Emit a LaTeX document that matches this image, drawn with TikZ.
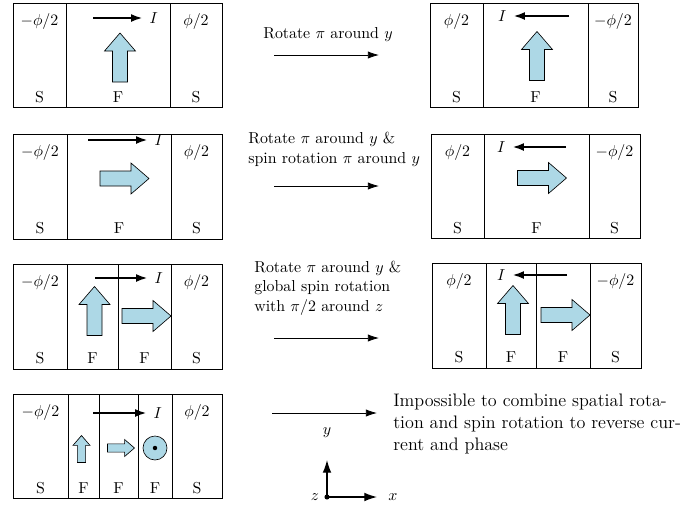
\documentclass[tikz,border=0pt]{standalone}
\usepackage{amsmath, amssymb}
\usepackage{tikz}
\usetikzlibrary{arrows.meta, positioning, calc}
\usepackage{xcolor}
\definecolor{spinblue}{RGB}{173,216,230}

\tikzset{
  spin/.pic={\draw[fill=spinblue, line width=0.4pt]
    (-7.5,24.5) -- (-7.5,-6.5) -- (-15.5,-6.5) -- (0,-24.5)
    -- (15.5,-6.5) -- (7.5,-6.5) -- (7.5,24.5) -- cycle;}
}

\begin{document}
\begin{tikzpicture}[x=0.63pt, y=-0.63pt,
  cellbox/.style={draw, line width=0.5pt},
  current/.style={-{Latex[length=7.5pt,width=5pt]}, line width=1.6pt},
  turn/.style={-{Latex[length=7pt,width=4.6pt]}, line width=0.5pt},
  axis/.style={-{Latex[length=8pt,width=5.5pt]}, line width=0.8pt},
  note/.style={align=left, inner sep=0pt, anchor=base west},
  lab/.style={anchor=base}]
  \useasboundingbox (0,0) rectangle (696,508);

  % row 1: rotate pi around y
  \draw[cellbox] (13,3) rectangle (222,107) (66,3) -- (66,107) (170,3) -- (170,107);
  \node[lab] (p1a) at (39.5,25) {$-\phi/2$};
  \node[lab] (p1b) at (196,25) {$\phi/2$};
  \foreach \x/\t [count=\i] in {39.5/S,118/F,196/S}
    \node[lab] (c1\i) at (\x,102) {\t};
  \coordinate (i1a) at (93,18);
  \draw[current] (i1a) -- (143,18) node[right] (I1) {$I$};
  \pic at (120,57.5) {spin};

  \node[note] (t1) at (263,38) {Rotate $\pi$ around $y$};
  \coordinate (a1) at (274,55);
  \coordinate (b1) at (379,55);
  \draw[turn] (a1) -- (b1);

  \draw[cellbox] (430,3) rectangle (638,107) (483,3) -- (483,107) (588,3) -- (588,107);
  \node[lab] (q1a) at (456.5,25) {$\phi/2$};
  \node[lab] (q1b) at (613,25) {$-\phi/2$};
  \foreach \x/\t [count=\i] in {456.5/S,535.5/F,613/S}
    \node[lab] (d1\i) at (\x,102) {\t};
  \coordinate (j1a) at (569,16);
  \draw[current] (j1a) -- (513,16) node[left] (J1) {$I$};
  \pic at (537,56) {spin};

  % row 2: rotate pi around y and spin rotation
  \draw[cellbox] (13,134) rectangle (222,239) (67,134) -- (67,239) (171,134) -- (171,239);
  \node[lab] (p2a) at (40,156) {$-\phi/2$};
  \node[lab] (p2b) at (196.5,156) {$\phi/2$};
  \foreach \x/\t [count=\i] in {40/S,119/F,196.5/S}
    \node[lab] (c2\i) at (\x,233) {\t};
  \coordinate (i2a) at (88,140);
  \draw[current] (i2a) -- (148,140) node[right] (I2) {$I$};
  \pic[rotate=-90] at (124.5,178.5) {spin};

  \node[note] (t2) at (248,163) {Rotate $\pi$ around $y$ \&\\spin rotation $\pi$ around $y$};
  \coordinate (a2) at (274,186);
  \coordinate (b2) at (379,186);
  \draw[turn] (a2) -- (b2);

  \draw[cellbox] (431,134) rectangle (640,238) (484,134) -- (484,238) (589,134) -- (589,238);
  \node[lab] (q2a) at (457.5,156) {$\phi/2$};
  \node[lab] (q2b) at (614.5,156) {$-\phi/2$};
  \foreach \x/\t [count=\i] in {457.5/S,536.5/F,614.5/S}
    \node[lab] (d2\i) at (\x,233) {\t};
  \coordinate (j2a) at (566,147);
  \draw[current] (j2a) -- (512,147) node[left] (J2) {$I$};
  \pic[rotate=-90] at (542,178) {spin};

  % row 3: two F layers, global spin rotation
  \draw[cellbox] (13,264) rectangle (222,369) (67,264) -- (67,369)
    (118,264) -- (118,369) (171,264) -- (171,369);
  \node[lab] (p3a) at (40,286) {$-\phi/2$};
  \node[lab] (p3b) at (196.5,286) {$\phi/2$};
  \foreach \x/\t [count=\i] in {40/S,92.5/F,144.5/F,196.5/S}
    \node[lab] (c3\i) at (\x,363) {\t};
  \coordinate (i3a) at (95,278);
  \draw[current] (i3a) -- (148,278) node[right] (I3) {$I$};
  \pic at (94.5,311) {spin};
  \pic[rotate=-90] at (146.5,316) {spin};

  \node[note] (t3) at (254,311) {Rotate $\pi$ around $y$ \&\\global spin rotation\\with $\pi/2$ around $z$};
  \coordinate (a3) at (274,338);
  \coordinate (b3) at (379,338);
  \draw[turn] (a3) -- (b3);

  \draw[cellbox] (432,263) rectangle (641,368) (486,263) -- (486,368)
    (536,263) -- (536,368) (590,263) -- (590,368);
  \node[lab] (q3a) at (459,285) {$\phi/2$};
  \node[lab] (q3b) at (615.5,285) {$-\phi/2$};
  \foreach \x/\t [count=\i] in {459/S,511/F,563/F,615.5/S}
    \node[lab] (d3\i) at (\x,362) {\t};
  \coordinate (j3a) at (567,275);
  \draw[current] (j3a) -- (512,275) node[left] (J3) {$I$};
  \pic at (513,310) {spin};
  \pic[rotate=-90] at (565.5,315) {spin};

  % row 4: three F layers
  \draw[cellbox] (13,394) rectangle (222,498) (68,394) -- (68,498)
    (99,394) -- (99,498) (138,394) -- (138,498) (172,394) -- (172,498);
  \node[lab] (p4a) at (40.5,416) {$-\phi/2$};
  \node[lab] (p4b) at (197,416) {$\phi/2$};
  \foreach \x/\t [count=\i] in {40.5/S,83.5/F,118.5/F,155/F,197/S}
    \node[lab] (c4\i) at (\x,493) {\t};
  \coordinate (i4a) at (93,413);
  \draw[current] (i4a) -- (147,413) node[right] (I4) {$I$};
  \pic[scale=0.55] at (81.5,449) {spin};
  \pic[scale=0.55, rotate=-90] at (121,448) {spin};
  \node[circle, draw, fill=spinblue, line width=0.4pt, minimum size=15.1pt, inner sep=0pt] (out) at (155,448) {};
  \fill (out.center) circle (1.4pt);

  \coordinate (a4) at (272,413);
  \coordinate (b4) at (377,413);
  \draw[turn] (a4) -- (b4);
  \node[note, font=\fontsize{11.4pt}{13.7pt}\selectfont] (t4) at (393,450)
    {Impossible to combine spatial rota-\\tion and spin rotation to reverse cur-\\rent and phase};

  % axes
  \coordinate (o) at (327,497);
  \coordinate (yend) at (327,460);
  \coordinate (xend) at (377,497);
  \draw[axis] (o) -- (yend);
  \draw[axis] (o) -- (xend);
  \fill (o) circle (1.6pt);
  \node (ylab) at (327,433) {$y$};
  \node (xlab) at (393,497) {$x$};
  \node (zlab) at (315,497) {$z$};
\end{tikzpicture}
\end{document}
